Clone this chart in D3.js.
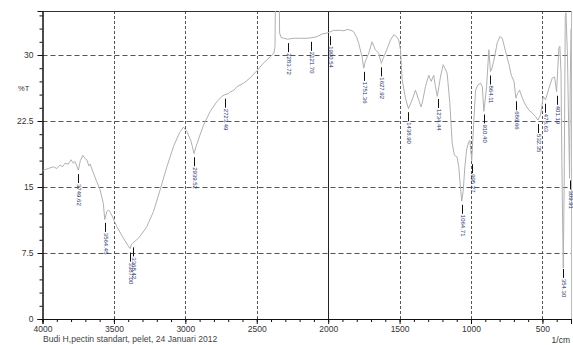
<!DOCTYPE html>
<html>
<head>
<meta charset="utf-8">
<script src="https://cdn.jsdelivr.net/npm/d3@7/dist/d3.min.js"></script>
<style>
  html, body { margin: 0; padding: 0; background: #ffffff; }
  svg { display: block; font-family: "Liberation Sans", Arial, sans-serif; }
</style>
</head>
<body>
<svg id="chart" width="573" height="345"></svg>
<script>
// IR spectrum: wavenumber (1/cm) and transmittance (%T)
const wavenumber = [
  4000, 3994, 3960, 3924, 3900, 3877, 3860, 3842, 3820, 3800, 3785, 3772, 3760, 3749,
  3735, 3718, 3700, 3690, 3675, 3667, 3644, 3620, 3597, 3574, 3564, 3550, 3539, 3525,
  3515, 3480, 3434, 3400, 3387, 3376, 3368, 3350, 3340, 3317, 3290, 3270, 3223, 3176,
  3129, 3083, 3040, 3013, 2989, 2960, 2939, 2925, 2900, 2873, 2826, 2779, 2744, 2723,
  2700, 2686, 2660, 2639, 2592, 2546, 2494, 2452, 2405, 2380, 2372, 2368, 2356, 2345,
  2340, 2330, 2312, 2283, 2242, 2200, 2148, 2121, 2100, 2078, 2040, 2008, 1990, 1962,
  1915, 1890, 1868, 1840, 1822, 1800, 1786, 1763, 1751, 1740, 1716, 1693, 1680, 1670,
  1646, 1628, 1615, 1600, 1580, 1564, 1541, 1522, 1506, 1494, 1482, 1459, 1438, 1412,
  1389, 1366, 1350, 1342, 1319, 1296, 1279, 1261, 1250, 1236, 1214, 1195, 1180, 1167,
  1148, 1132, 1116, 1097, 1086, 1074, 1065, 1055, 1043, 1031, 1019, 1008, 995, 985,
  980, 968, 952, 933, 921, 910, 900, 891, 875, 864, 855, 840, 816, 798,
  781, 758, 734, 718, 699, 686, 675, 660, 641, 618, 595, 571, 548, 532,
  513, 494, 478, 455, 431, 415, 401, 385, 378, 370, 362, 354, 348, 340,
  335, 325, 310, 305, 300
];
const transmittance = [
  16.9, 16.9, 17.1, 17.3, 17.1, 17.5, 17.3, 17.7, 17.6, 18.1, 17.7, 17.9, 17.4, 16.9,
  18.0, 18.6, 18.2, 18.1, 17.4, 17.6, 16.6, 15.6, 14.7, 13.1, 11.3, 12.2, 12.4, 12.1,
  11.8, 10.5, 9.2, 8.3, 8.0, 8.5, 8.6, 8.9, 9.0, 9.4, 10.0, 10.5, 12.2, 14.7,
  17.3, 19.6, 21.2, 21.8, 21.3, 20.2, 18.8, 19.6, 20.8, 22.0, 23.6, 24.7, 25.3, 25.5,
  25.6, 25.8, 26.0, 26.4, 26.8, 27.4, 28.3, 29.1, 29.8, 30.2, 31.0, 40.0, 40.0, 40.0,
  32.5, 32.0, 31.9, 31.8, 31.9, 31.9, 31.9, 31.95, 32.0, 32.1, 32.4, 32.5, 32.6, 32.8,
  32.8, 32.75, 32.9, 32.8, 32.65, 32.0, 31.3, 29.8, 28.5, 29.3, 30.2, 31.5, 31.0, 30.6,
  30.2, 29.05, 29.6, 30.2, 31.0, 31.7, 32.3, 32.1, 31.7, 30.6, 27.2, 25.1, 23.9, 24.9,
  26.0, 24.9, 24.1, 24.5, 26.4, 27.7, 27.0, 27.7, 26.5, 25.3, 27.5, 28.9, 28.4, 27.9,
  24.5, 20.0, 18.6, 18.4, 17.3, 15.0, 13.4, 14.5, 17.3, 19.2, 20.0, 20.3, 18.0, 21.0,
  22.6, 26.0, 26.6, 26.8, 26.4, 23.6, 25.0, 26.4, 30.6, 28.1, 28.4, 29.4, 31.4, 32.1,
  31.9, 30.4, 28.9, 27.7, 27.0, 25.1, 25.6, 26.0, 25.1, 24.3, 23.75, 23.4, 23.0, 22.6,
  23.2, 25.3, 24.9, 26.2, 27.4, 27.5, 25.8, 30.8, 31.0, 28.0, 15.0, 5.8, 15.0, 34.5,
  34.8, 30.0, 16.0, 27.0, 33.0
];

// Labelled peaks
const peakWavenumber = [3749.62, 3564.45, 3387.00, 3368.42, 2939.52, 2723.49, 2283.72, 2121.70,
  1990.54, 1751.36, 1627.92, 1438.90, 1234.44, 1064.71, 995.27, 910.40, 864.11, 686.66,
  532.35, 478.63, 401.19, 354.30, 309.91];
const peakLabel = ["3749.62", "3564.45", "3387.00", "3368.42", "2939.52", "2723.49", "2283.72", "2121.70",
  "1990.54", "1751.36", "1627.92", "1438.90", "1234.44", "1064.71", "995.27", "910.40", "864.11", "686.66",
  "532.35", "478.63", "401.19", "354.30", "309.91"];

const xMajorTicks = [4000, 3500, 3000, 2500, 2000, 1500, 1000, 500];
const yMajorTicks = [0, 7.5, 15, 22.5, 30];
const yTickLabels = ["0", "7.5", "15", "22.5", "30"];
const xUnit = "1/cm";
const yUnit = "%T";
const caption = "Budi H,pectin standart, pelet, 24  Januari 2012";

const svg = d3.select("#chart");
const plotLeft = 42.5, plotRight = 571, plotTop = 11, plotBottom = 319;
const sans = "'Liberation Sans', Arial, sans-serif";

const x = d3.scaleLinear().domain([4000, 300]).range([plotLeft, plotRight]);
const y = d3.scaleLinear().domain([0, 35]).range([plotBottom, plotTop]);

// clip region for the trace
svg.append("defs").append("clipPath").attr("id", "plotClip")
  .append("rect").attr("x", plotLeft).attr("y", plotTop)
  .attr("width", plotRight - plotLeft).attr("height", plotBottom - plotTop);

// grid
const grid = svg.append("g");
xMajorTicks.filter(d => d !== 4000).forEach(d => {
  grid.append("line")
    .attr("x1", Math.round(x(d)) + 0.5).attr("x2", Math.round(x(d)) + 0.5)
    .attr("y1", plotTop).attr("y2", plotBottom)
    .attr("stroke", d === 2000 ? "#222" : "#555")
    .attr("stroke-width", 1)
    .attr("stroke-dasharray", d === 2000 ? null : "3,2");
});
yMajorTicks.filter(d => d !== 0).forEach(d => {
  grid.append("line")
    .attr("x1", plotLeft).attr("x2", plotRight)
    .attr("y1", Math.round(y(d)) + 0.5).attr("y2", Math.round(y(d)) + 0.5)
    .attr("stroke", "#555").attr("stroke-width", 1)
    .attr("stroke-dasharray", "5,3");
});

// frame
svg.append("line").attr("x1", plotLeft).attr("x2", plotRight).attr("y1", plotTop + 0.5).attr("y2", plotTop + 0.5)
  .attr("stroke", "#333").attr("stroke-width", 1);
svg.append("line").attr("x1", plotRight + 0.5).attr("x2", plotRight + 0.5).attr("y1", plotTop).attr("y2", plotBottom)
  .attr("stroke", "#bbb").attr("stroke-width", 1);

// axes
const yAxis = d3.axisLeft(y).tickValues(yMajorTicks).tickSize(5)
  .tickFormat((d, i) => yTickLabels[i]);
const yMinor = d3.axisLeft(y).tickValues(d3.range(0, 35, 1.5)).tickSize(3).tickFormat("");
const xAxis = d3.axisBottom(x).tickValues(xMajorTicks).tickSize(5).tickFormat(d3.format("d"));
const xMinor = d3.axisBottom(x).tickValues(d3.range(4000, 299, -100)).tickSize(3).tickFormat("");

function styleAxis(g) {
  g.select(".domain").attr("stroke", "#111");
  g.selectAll(".tick line").attr("stroke", "#111");
  g.selectAll("text").attr("fill", "#333").style("font-size", "8.5px")
    .style("font-family", sans);
}

svg.append("g").attr("transform", `translate(${plotLeft},0)`).call(yMinor).call(styleAxis);
svg.append("g").attr("transform", `translate(${plotLeft},0)`).call(yAxis).call(styleAxis)
  .selectAll("text").attr("x", -9);
svg.append("g").attr("transform", `translate(0,${plotBottom})`).call(xMinor).call(styleAxis);
svg.append("g").attr("transform", `translate(0,${plotBottom})`).call(xAxis).call(styleAxis)
  .selectAll("text").attr("y", 7);

// axis titles and caption
svg.append("text").attr("x", 18).attr("y", 91).text(yUnit)
  .attr("fill", "#333").style("font-size", "7.5px").style("font-family", sans);
svg.append("text").attr("x", 570).attr("y", 343).attr("text-anchor", "end").text(xUnit)
  .attr("fill", "#333").style("font-size", "8.5px").style("font-family", sans);
svg.append("text").attr("x", 43).attr("y", 342).text(caption)
  .attr("fill", "#444").style("font-size", "8.6px").style("font-family", sans);

// spectrum trace
const points = wavenumber.map((w, i) => [w, transmittance[i]]);
svg.append("path")
  .datum(points)
  .attr("clip-path", "url(#plotClip)")
  .attr("fill", "none")
  .attr("stroke", "#b0b0b0")
  .attr("stroke-width", 1)
  .attr("d", d3.line().x(d => x(d[0])).y(d => y(d[1])));

// peak markers: short tick under the trace followed by rotated value
const interp = w => {
  for (let i = 0; i < wavenumber.length - 1; i++) {
    const a = wavenumber[i], b = wavenumber[i + 1];
    if (w <= a && w >= b) {
      const t = (a - w) / (a - b);
      return transmittance[i] + t * (transmittance[i + 1] - transmittance[i]);
    }
  }
  return transmittance[transmittance.length - 1];
};
const peaks = svg.append("g");
peakWavenumber.forEach((w, i) => {
  const px = Math.round(x(w)) + 0.5;
  const y0 = y(Math.min(interp(w), 34)) + 4;
  peaks.append("line").attr("x1", px).attr("x2", px).attr("y1", y0).attr("y2", y0 + 9)
    .attr("stroke", "#111").attr("stroke-width", 1);
  peaks.append("text")
    .attr("transform", `translate(${px},${y0 + 10}) rotate(90)`)
    .attr("dominant-baseline", "central")
    .attr("fill", "#26336b")
    .style("font-size", "6px")
    .style("font-family", sans)
    .text(peakLabel[i]);
});
</script>
</body>
</html>
